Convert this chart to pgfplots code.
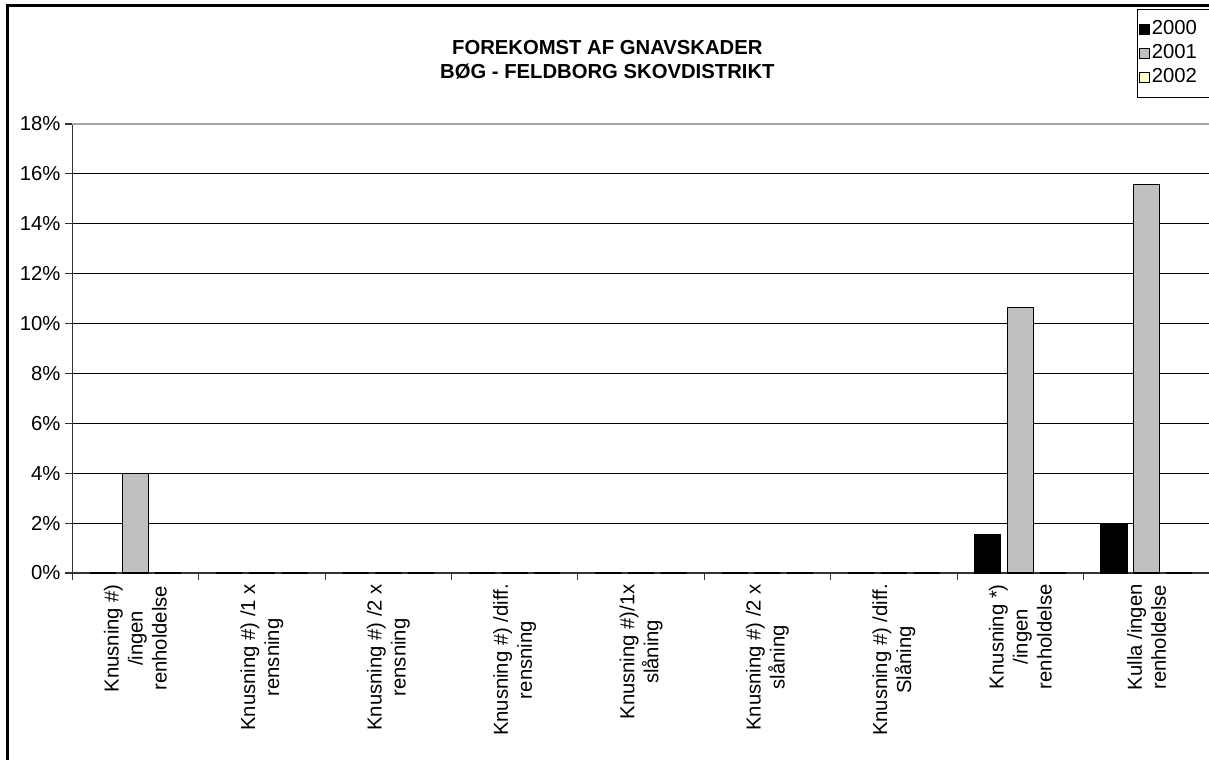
\documentclass[border=0pt]{standalone}
\usepackage{fontspec}
\setmainfont{Liberation Sans}
\usepackage{pgfplots}
\pgfplotsset{compat=1.18}
\definecolor{bargray}{HTML}{C0C0C0}
\definecolor{baryellow}{HTML}{FFFFCC}
\newcommand{\fsz}{\fontsize{15.2}{18}\selectfont}
\begin{document}
\begin{tikzpicture}[font=\fsz]
\useasboundingbox (0pt,0pt) rectangle (906.75pt,570pt);
\begin{axis}[
  at={(54.225pt,140.25pt)}, anchor=south west,
  scale only axis, width=852.5pt, height=336.75pt,
  xmin=-0.5, xmax=8.493, ymin=0, ymax=18,
  ybar=5pt, bar width=19.5pt,
  xtick={0,...,8},
  xticklabels={{Knusning \#)\\/ingen\\renholdelse},
               {Knusning \#) /1 x\\rensning},
               {Knusning \#) /2 x\\rensning},
               {Knusning \#) /diff.\\rensning},
               {Knusning \#)/1x\\slåning},
               {Knusning \#) /2 x\\slåning},
               {Knusning \#) /diff.\\Slåning},
               {Knusning *)\\/ingen\\renholdelse},
               {Kulla /ingen\\renholdelse}},
  minor xtick={-0.5,0.5,...,7.5},
  ytick={0,2,...,16},
  yticklabels={0\%,2\%,4\%,6\%,8\%,10\%,12\%,14\%,16\%},
  minor ytick={0,2,...,18},
  extra y ticks={18}, extra y tick labels={18\%},
  extra y tick style={grid=major, major grid style={draw=gray!70, line width=1.2pt}},
  major tick length=0pt, minor tick length=5.25pt,
  tick align=outside, tick pos=left,
  ymajorgrids, major grid style={draw=black, line width=0.6pt},
  axis x line*=bottom, axis y line*=left,
  axis line style={-, draw=black!80, line width=1pt},
  minor tick style={draw=black!80, line width=0.8pt},
  tick label style={font=\fsz},
  xticklabel style={rotate=90, anchor=east, align=center, inner sep=0pt},
  yticklabel style={anchor=east, inner sep=0pt},
  xticklabel shift=8.25pt, yticklabel shift=8.75pt,
  title={FOREKOMST AF GNAVSKADER\\BØG - FELDBORG SKOVDISTRIKT},
  title style={at={(axis description cs:0.4707,1.126)}, anchor=center, align=center, font=\bfseries\fsz},
  legend image code/.code={\draw[#1, line width=0.75pt] (0pt,-3.6pt) rectangle (7.2pt,3.6pt);},
  legend style={at={(axis description cs:0.9365,1.2561)}, anchor=north west,
    draw=black, line width=0.75pt, font=\fsz, inner xsep=1.5pt, inner ysep=6pt,
    cells={anchor=west},
    nodes={inner xsep=1.5pt, inner ysep=2pt, text height=11pt, text depth=3pt}},
]
\addplot[fill=black, draw=black, line width=1pt] coordinates {(0,0) (1,0) (2,0) (3,0) (4,0) (5,0) (6,0) (7,1.55) (8,1.98)};
\addplot[fill=bargray, draw=black, line width=1pt] coordinates {(0,4.0) (1,0) (2,0) (3,0) (4,0) (5,0) (6,0) (7,10.65) (8,15.58)};
\addplot[fill=baryellow, draw=black, line width=1pt] coordinates {(0,0) (1,0) (2,0) (3,0) (4,0) (5,0) (6,0) (7,0) (8,0)};
\legend{\makebox[50pt][l]{2000},\makebox[50pt][l]{2001},\makebox[50pt][l]{2002}}
\end{axis}
\draw[line width=1.9pt] (5.6pt,565.9pt) -- (906.75pt,565.9pt);
\draw[line width=1.9pt] (5.6pt,566.85pt) -- (5.6pt,0pt);
\end{tikzpicture}
\end{document}
